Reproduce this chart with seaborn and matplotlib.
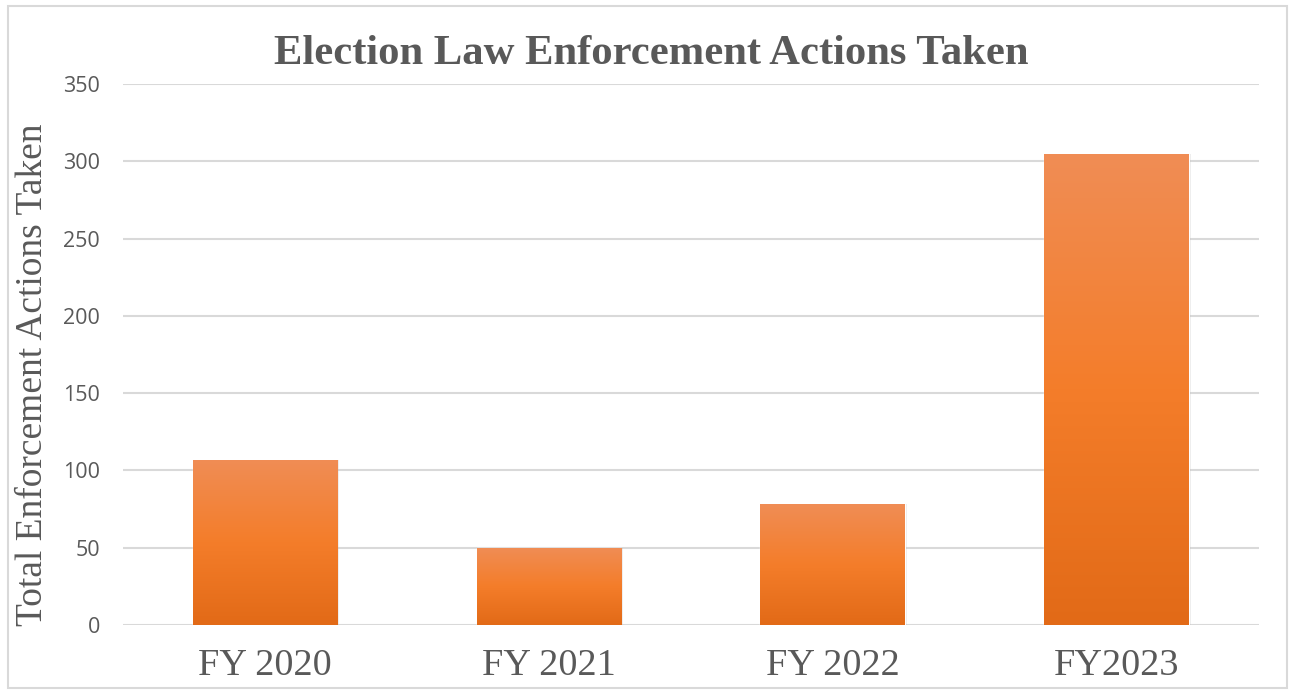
import numpy as np
import pandas as pd
import matplotlib
matplotlib.use("Agg")
import matplotlib.pyplot as plt
from matplotlib.colors import LinearSegmentedColormap
from matplotlib.patches import Rectangle
import seaborn as sns

# chart data
years = ["FY 2020", "FY 2021", "FY 2022", "FY2023"]
actions = [107, 50, 78, 305]
yticks = [0, 50, 100, 150, 200, 250, 300, 350]

df = pd.DataFrame({"year": years, "actions": actions})

sns.set_style("white")
grey = "#595959"
grid_col = "#D9D9D9"

fig = plt.figure(figsize=(12.95, 6.91), dpi=100)
ax = fig.add_axes([0.095, 0.0955, 0.877, 0.783])

sns.barplot(data=df, x="year", y="actions", color="#F47D2A", width=0.51, ax=ax, zorder=3)

# excel-like vertical gradient on each bar
grad = LinearSegmentedColormap.from_list("bar", ["#E26A17", "#F47D2A", "#F08D55"])
g = np.linspace(0, 1, 256).reshape(-1, 1)
for p in ax.patches:
    x0, y0 = p.get_x(), p.get_y()
    w, h = p.get_width(), p.get_height()
    im = ax.imshow(g, cmap=grad, aspect="auto", origin="lower",
                   extent=[x0, x0 + w, y0, y0 + h], zorder=4)
    im.set_clip_path(p)
    # faint shadow
    ax.add_patch(Rectangle((x0 + 0.006, y0), w, h, facecolor="#000000", alpha=0.08,
                           edgecolor="none", zorder=2.5))

ax.set_xlim(-0.5, 3.5)
ax.set_ylim(0, 350)
ax.set_yticks(yticks)
ax.yaxis.grid(True, color=grid_col, linewidth=1.5, zorder=0)
ax.set_axisbelow(True)
for s in ax.spines.values():
    s.set_visible(False)

ax.tick_params(axis="y", length=0, pad=16.5, labelsize=15.5, labelcolor=grey)
ax.tick_params(axis="x", length=0, pad=17, labelcolor=grey)
for lab in ax.get_yticklabels():
    lab.set_fontfamily("Open Sans")
for lab in ax.get_xticklabels():
    lab.set_fontfamily("Liberation Serif")
    lab.set_fontsize(27.5)

ax.set_xlabel("")
ax.set_ylabel("Total Enforcement Actions Taken", fontfamily="Liberation Serif",
              fontsize=27, color=grey)
ax.yaxis.set_label_coords(-0.064, 0.462)

fig.text(0.503, 0.922, "Election Law Enforcement Actions Taken", ha="center", va="center",
         fontfamily="Liberation Serif", fontweight="bold", fontsize=30.7, color=grey)

# outer chart border
fig.patches.append(Rectangle((0.006, 0.004), 0.988, 0.988, transform=fig.transFigure,
                             fill=False, edgecolor=grid_col, linewidth=1.5))

fig.savefig("out.png", dpi=100)
